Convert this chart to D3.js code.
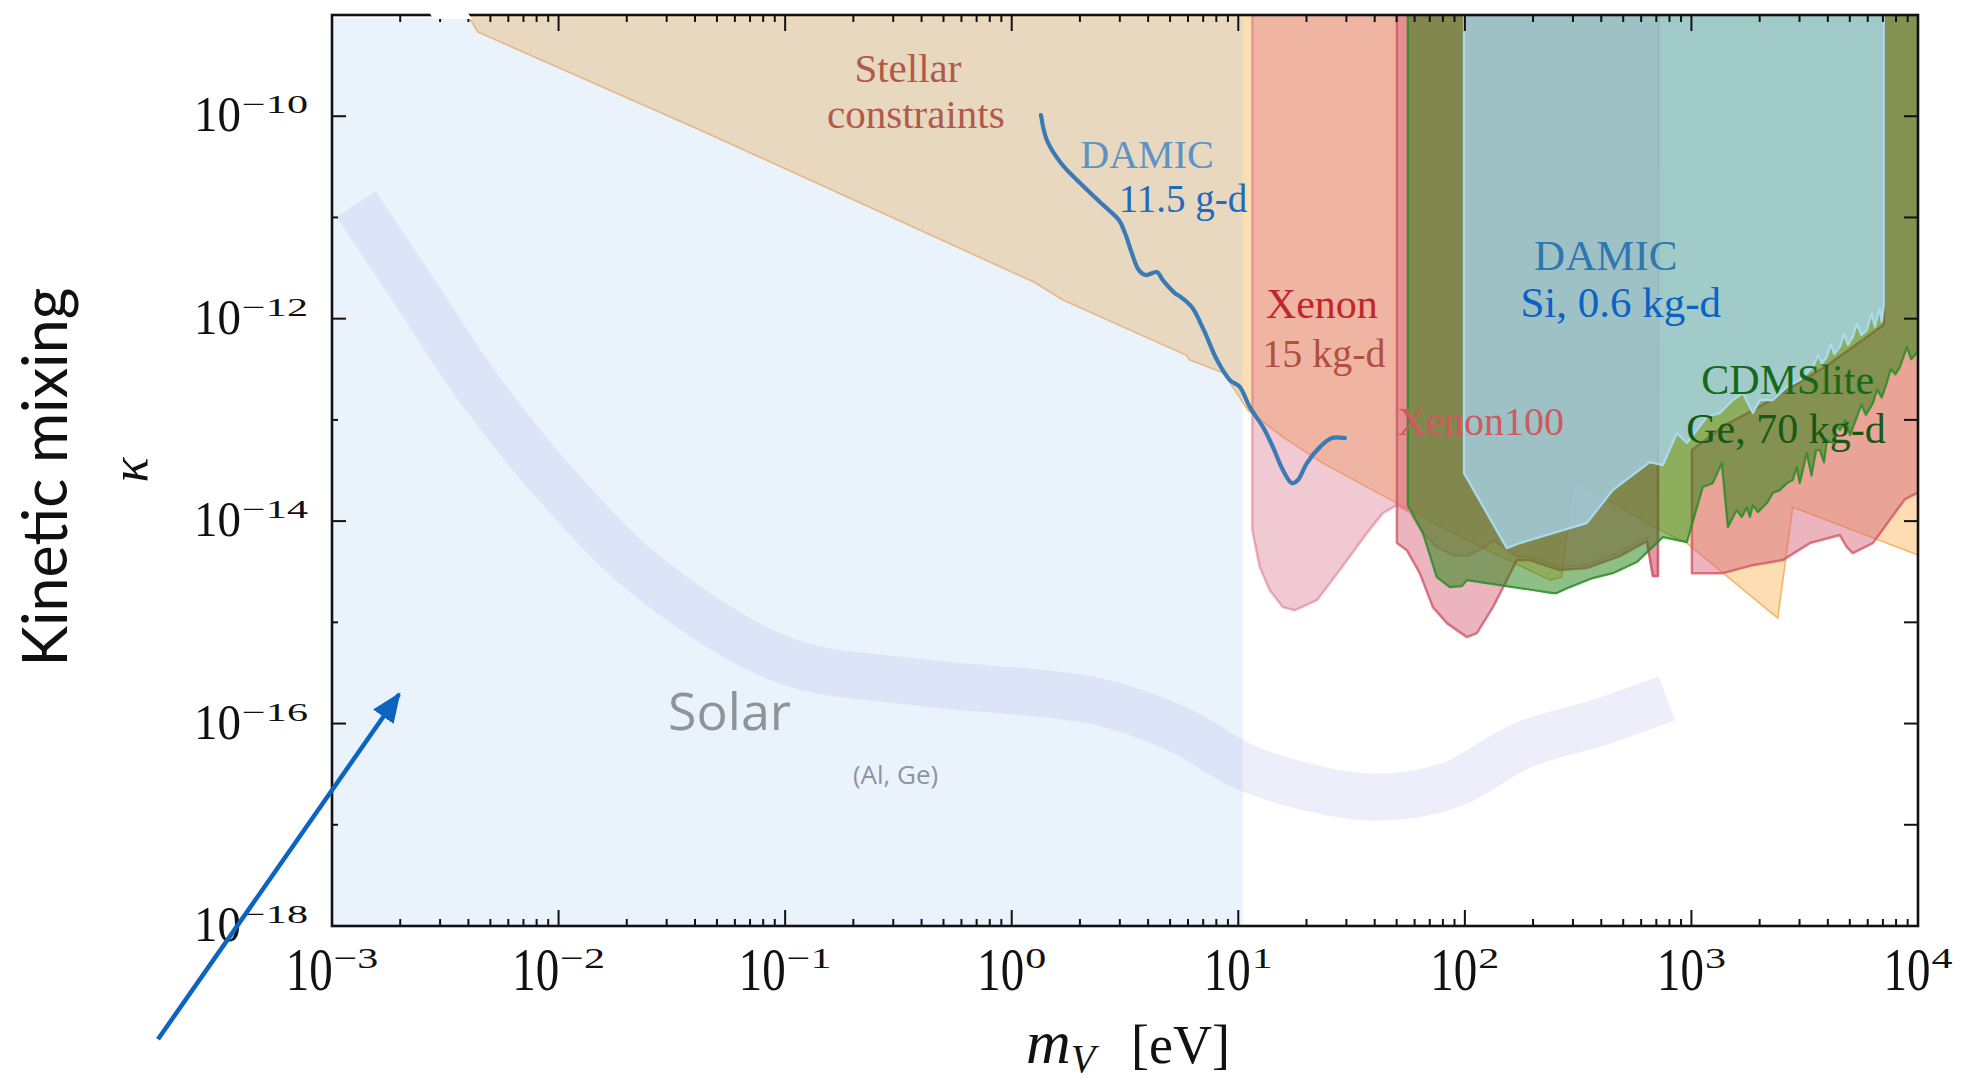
<!DOCTYPE html>
<html>
<head>
<meta charset="utf-8">
<script src="https://cdn.jsdelivr.net/npm/d3@7"></script>
<style>
  html, body { margin: 0; padding: 0; background: #ffffff; }
  svg { display: block; }
</style>
</head>
<body>
<svg id="chart" width="1963" height="1082"></svg>
<script>
// All values are log10 exponents: [log10(m_V / eV), log10(kappa)]

const xDecades = [-3, -2, -1, 0, 1, 2, 3, 4];
const yLabelled = [-18, -16, -14, -12, -10];
const yDecades = [-18, -17, -16, -15, -14, -13, -12, -11, -10, -9];

// Stellar constraints (excluded above the boundary)
const stellar = [
  [-2.43, -8.9], [-2.356, -9.168], [-1.376, -10.136], [0.098, -11.638], [0.226, -11.816],
  [0.769, -12.360], [0.786, -12.409], [0.936, -12.538], [1.042, -12.903], [1.197, -13.170],
  [1.373, -13.427], [1.700, -13.822], [2.035, -14.217], [2.375, -14.583], [2.428, -14.553],
  [2.477, -13.595], [2.861, -14.089], [2.980, -14.217], [3.381, -14.958], [3.447, -13.862],
  [4.0, -14.336], [4.2, -14.5], [4.2, -8.0], [-2.43, -8.0]
];

// Xenon, 15 kg-d
const xenon15 = [
  [1.062, -8.0], [1.062, -14.09], [1.095, -14.455], [1.139, -14.682], [1.197, -14.850],
  [1.250, -14.880], [1.347, -14.781], [1.448, -14.484], [1.567, -14.119], [1.638, -13.921],
  [1.700, -13.842], [1.757, -13.911], [1.815, -14.119], [1.876, -14.257], [1.947, -14.336],
  [2.009, -14.346], [2.066, -14.287], [2.124, -14.188], [2.177, -14.267], [2.229, -14.346],
  [2.287, -14.356], [2.419, -14.455], [2.538, -14.435], [2.684, -14.316], [2.803, -14.168],
  [2.830, -14.543], [2.852, -14.543], [2.856, -8.0]
];

// Xenon100, low-mass piece
const xenon100a = [
  [1.700, -8.0], [1.700, -14.217], [1.744, -14.287], [1.801, -14.514], [1.859, -14.850],
  [1.921, -15.008], [2.009, -15.146], [2.053, -15.107], [2.124, -14.850], [2.185, -14.583],
  [2.229, -14.385], [2.287, -14.385], [2.419, -14.484], [2.538, -14.464], [2.684, -14.346],
  [2.803, -14.198], [2.830, -14.543], [2.852, -14.543], [2.856, -8.0]
];

// Xenon100, high-mass piece
const xenon100b = [
  [3.002, -13.298], [3.002, -14.514], [3.139, -14.514], [3.271, -14.435], [3.403, -14.385],
  [3.523, -14.217], [3.655, -14.138], [3.686, -14.257], [3.712, -14.316], [3.801, -14.217],
  [3.942, -13.783], [4.2, -13.5], [4.2, -8.0], [3.849, -8.0], [3.849, -12.06],
  [3.6, -12.46], [3.3, -12.87], [3.15, -13.05]
];

// CDMSlite, Ge 70 kg-d
const cdmslite = [
  [1.748, -8.0], [1.748, -13.842], [1.815, -14.119], [1.876, -14.553], [1.934, -14.652],
  [1.987, -14.642], [2.009, -14.583], [2.388, -14.711], [2.406, -14.711], [2.463, -14.652],
  [2.565, -14.563], [2.653, -14.514], [2.759, -14.405], [2.874, -14.158], [2.980, -14.208],
  [3.050, -13.664], [3.094, -13.625], [3.134, -13.427], [3.161, -14.059], [3.200, -13.891],
  [3.222, -13.960], [3.245, -13.862], [3.258, -13.960], [3.271, -13.842], [3.293, -13.911],
  [3.333, -13.822], [3.359, -13.723], [3.390, -13.694], [3.421, -13.625], [3.447, -13.595],
  [3.465, -13.466], [3.478, -13.625], [3.509, -13.328], [3.530, -13.55], [3.550, -13.30],
  [3.567, -13.298], [3.585, -13.42], [3.598, -13.20], [3.624, -13.229], [3.640, -13.05],
  [3.655, -13.101], [3.680, -13.00], [3.700, -13.15], [3.730, -12.972], [3.750, -12.85],
  [3.770, -12.95], [3.801, -12.834], [3.820, -12.70], [3.840, -12.78], [3.862, -12.636],
  [3.880, -12.50], [3.900, -12.55], [3.920, -12.478], [3.951, -12.281], [3.970, -12.40],
  [3.995, -12.340], [4.2, -12.2], [4.2, -8.0]
];

// DAMIC, Si 0.6 kg-d
const damicSi = [
  [1.996, -8.0], [1.996, -13.526], [2.185, -14.267], [2.243, -14.217], [2.463, -14.069],
  [2.538, -14.020], [2.653, -13.694], [2.816, -13.417], [2.874, -13.447], [2.936, -13.130],
  [2.980, -13.229], [3.024, -13.101], [3.068, -12.972], [3.125, -12.933], [3.183, -12.804],
  [3.227, -12.735], [3.271, -12.933], [3.302, -12.804], [3.359, -12.804], [3.421, -12.676],
  [3.478, -12.607], [3.536, -12.478], [3.560, -12.36], [3.575, -12.44], [3.598, -12.379],
  [3.615, -12.25], [3.630, -12.35], [3.655, -12.281], [3.675, -12.15], [3.690, -12.26],
  [3.712, -12.182], [3.730, -12.05], [3.750, -12.16], [3.774, -12.113], [3.795, -11.95],
  [3.810, -12.08], [3.830, -11.90], [3.840, -12.03], [3.849, -11.87], [3.849, -8.0]
];

// DAMIC, 11.5 g-d limit curve
const damicLine = [
  [0.129, -9.988], [0.155, -10.235], [0.217, -10.462], [0.297, -10.650], [0.394, -10.858],
  [0.473, -11.026], [0.500, -11.154], [0.530, -11.352], [0.561, -11.520], [0.592, -11.569],
  [0.641, -11.540], [0.667, -11.619], [0.720, -11.747], [0.747, -11.787], [0.795, -11.885],
  [0.848, -12.113], [0.906, -12.409], [0.963, -12.607], [1.007, -12.676], [1.051, -12.874],
  [1.109, -13.071], [1.153, -13.269], [1.197, -13.496], [1.237, -13.625], [1.263, -13.595],
  [1.303, -13.427], [1.360, -13.269], [1.413, -13.180], [1.470, -13.180]
];

// Solar absorption reach (Al, Ge), centre of the band
const solarBand = [
  [-2.894, -10.868], [-2.612, -11.816], [-2.347, -12.706], [-1.950, -13.792], [-1.597, -14.563],
  [-1.005, -15.374], [-0.414, -15.591], [0.372, -15.779], [0.742, -16.065], [1.020, -16.421],
  [1.272, -16.609], [1.594, -16.727], [1.934, -16.609], [2.256, -16.213], [2.596, -15.986],
  [2.891, -15.749]
];

// Shaded solar reach window and the gap it leaves in the top spine
const solarWindow = { from: -3, to: 1.02, top: -9.03 };
const spineGap = [[-2.576, -8.95], [-2.409, -8.95], [-2.382, -9.04], [-2.554, -9.04]];

// Pointer arrow
const arrowFrom = [-3.768, -19.119];
const arrowTo = [-2.704, -15.71];

// Region labels, one block per region; each line: [text, log10 m, log10 kappa, colour, size]
const labelBlocks = [
  { anchor: "middle", family: "serif", lines: [
    ["Stellar", -0.458, -9.662, "#b15a49", 41],
    ["constraints", -0.423, -10.117, "#b15a49", 41]] },
  { anchor: "middle", family: "serif", lines: [
    ["DAMIC", 0.597, -10.512, "#5b93c4", 40],
    ["11.5 g-d", 0.756, -10.947, "#1f6bbe", 39]] },
  { anchor: "middle", family: "serif", lines: [
    ["Xenon", 1.369, -11.994, "#c0262b", 42],
    ["15 kg-d", 1.378, -12.478, "#b0503e", 40]] },
  { anchor: "middle", family: "serif", lines: [
    ["Xenon100", 2.070, -13.150, "#cc5a5e", 40]] },
  { anchor: "middle", family: "serif", lines: [
    ["DAMIC", 2.622, -11.520, "#2e78b0", 43],
    ["Si, 0.6 kg-d", 2.688, -11.984, "#0a62c6", 43]] },
  { anchor: "middle", family: "serif", lines: [
    ["CDMSlite", 3.425, -12.745, "#156a1a", 42],
    ["Ge, 70 kg-d", 3.417, -13.229, "#145a16", 42]] },
  { anchor: "start", family: "sans", lines: [
    ["Solar", -1.517, -16.065, "#8d949c", 52]] },
  { anchor: "start", family: "sans", lines: [
    ["(Al, Ge)", -0.701, -16.599, "#8d949c", 26]] }
];

// ---------------------------------------------------------------------------
const M = { left: 332, right: 1918, top: 15, bottom: 926 };
const svg = d3.select("#chart");

const x = d3.scaleLog().domain([1e-3, 1e4]).range([M.left, M.right]);
const y = d3.scaleLog().domain([1e-18, 1e-9]).range([M.bottom, M.top]);
const px = d => x(Math.pow(10, d[0]));
const py = d => y(Math.pow(10, d[1]));
const line = d3.line().x(px).y(py);
const polygon = pts => line(pts) + "Z";
const smooth = d3.line().x(px).y(py).curve(d3.curveCatmullRom.alpha(0.5));

const SERIF = "'Liberation Serif', 'DejaVu Serif', serif";
const SANS = "'Open Sans', 'Noto Sans', sans-serif";

const defs = svg.append("defs");
defs.append("clipPath").attr("id", "plot-clip")
  .append("rect")
  .attr("x", M.left).attr("y", M.top)
  .attr("width", M.right - M.left).attr("height", M.bottom - M.top);

const plot = svg.append("g").attr("clip-path", "url(#plot-clip)");

// solar band (under the shaded window)
plot.append("path")
  .attr("d", smooth(solarBand))
  .attr("fill", "none")
  .attr("stroke", "#edeef9")
  .attr("stroke-width", 47)
  .attr("stroke-linecap", "butt");

// stellar constraints
plot.append("path").attr("d", polygon(stellar))
  .attr("fill", "rgba(250,170,60,0.40)")
  .attr("stroke", "rgba(244,170,85,0.85)")
  .attr("stroke-width", 1.6)
  .attr("stroke-linejoin", "round");

// shaded window of the solar reach
const winTop = y(Math.pow(10, solarWindow.top));
plot.append("rect")
  .attr("x", x(Math.pow(10, solarWindow.from)))
  .attr("y", winTop)
  .attr("width", x(Math.pow(10, solarWindow.to)) - x(Math.pow(10, solarWindow.from)))
  .attr("height", M.bottom - winTop)
  .attr("fill", "#9fc8f1")
  .attr("fill-opacity", 0.22);

// Xenon 15 kg-d
plot.append("path").attr("d", polygon(xenon15))
  .attr("fill", "rgba(220,120,142,0.40)")
  .attr("stroke", "rgba(214,96,118,0.45)")
  .attr("stroke-width", 2.5)
  .attr("stroke-linejoin", "round");

// Xenon100
[xenon100a, xenon100b].forEach(pts => {
  plot.append("path").attr("d", polygon(pts))
    .attr("fill", "rgba(215,105,125,0.50)")
    .attr("stroke", "rgba(208,80,95,0.75)")
    .attr("stroke-width", 2.5)
    .attr("stroke-linejoin", "round");
});

// CDMSlite
plot.append("path").attr("d", polygon(cdmslite))
  .attr("fill", "rgba(30,128,10,0.50)")
  .attr("stroke", "rgba(40,140,40,0.85)")
  .attr("stroke-width", 2.2)
  .attr("stroke-linejoin", "round");

// DAMIC Si
plot.append("path").attr("d", polygon(damicSi))
  .attr("fill", "rgba(168,212,237,0.75)")
  .attr("stroke", "rgba(170,220,245,0.95)")
  .attr("stroke-width", 2.2)
  .attr("stroke-linejoin", "round");

// DAMIC 11.5 g-d curve
plot.append("path")
  .attr("d", smooth(damicLine))
  .attr("fill", "none")
  .attr("stroke", "#3a7ab6")
  .attr("stroke-width", 4.2)
  .attr("stroke-linecap", "round");

// region labels (multi-line labels kept in one text element)
labelBlocks.forEach(block => {
  const t = svg.append("text")
    .attr("text-anchor", block.anchor)
    .attr("font-family", block.family === "serif" ? SERIF : SANS);
  block.lines.forEach(([s, lm, lk, col, size]) => {
    t.append("tspan")
      .attr("x", px([lm, lk])).attr("y", py([lm, lk]))
      .attr("font-size", size)
      .attr("fill", col)
      .text(s);
  });
});

// ---------------------------------------------------------------------------
// axes: ticks point inward on all four sides
const axes = svg.append("g").attr("stroke", "#111").attr("stroke-width", 2);
const minorX = [];
for (let e = -3; e < 4; e++) for (let k = 2; k < 10; k++) minorX.push(k * Math.pow(10, e));

function xTicks(yEdge, dir) {
  xDecades.forEach(e => {
    const X = x(Math.pow(10, e));
    axes.append("line").attr("x1", X).attr("x2", X).attr("y1", yEdge).attr("y2", yEdge + dir * 16);
  });
  minorX.forEach(v => {
    const X = x(v);
    axes.append("line").attr("x1", X).attr("x2", X).attr("y1", yEdge).attr("y2", yEdge + dir * 7);
  });
}
xTicks(M.bottom, -1);
xTicks(M.top, 1);

yDecades.forEach(e => {
  const Y = y(Math.pow(10, e));
  const len = yLabelled.includes(e) ? 14 : 6;
  axes.append("line").attr("x1", M.left).attr("x2", M.left + len).attr("y1", Y).attr("y2", Y);
  axes.append("line").attr("x1", M.right).attr("x2", M.right - 14).attr("y1", Y).attr("y2", Y);
});

svg.append("rect")
  .attr("x", M.left).attr("y", M.top)
  .attr("width", M.right - M.left).attr("height", M.bottom - M.top)
  .attr("fill", "none").attr("stroke", "#111").attr("stroke-width", 2.6);

// gap in the top spine where the solar window was pasted
svg.append("path").attr("d", polygon(spineGap)).attr("fill", "#ffffff");

// tick labels: "10" plus a separately scaled exponent
const minus = "\u2212";
const expText = e => (e < 0 ? minus + Math.abs(e) : String(e));

function powerLabel(anchorX, baseY, e, opt) {
  const g = svg.append("g").attr("font-family", SERIF).attr("fill", "#111");
  const main = g.append("text").attr("font-size", opt.mainSize).text("10");
  const sup = g.append("text").attr("font-size", opt.supSize).text(expText(e));
  const mw = main.node().getComputedTextLength();
  const sw = sup.node().getComputedTextLength() * opt.supStretch;
  const total = mw + opt.gap + sw;
  const left = opt.align === "middle" ? anchorX - total / 2 : anchorX - total;
  main.attr("transform", `translate(${left},${baseY}) scale(1,${opt.mainStretch})`);
  sup.attr("transform", `translate(${left + mw + opt.gap},${baseY + opt.supShift}) scale(${opt.supStretch},1)`);
}

xDecades.forEach(e => powerLabel(x(Math.pow(10, e)), 990, e, {
  mainSize: 47, mainStretch: 1.32, supSize: 30, supStretch: 1.4, supShift: -22, gap: 1, align: "middle"
}));
yLabelled.forEach(e => powerLabel(M.left - 24, y(Math.pow(10, e)) + 15, e, {
  mainSize: 47, mainStretch: 1.1, supSize: 26, supStretch: 1.62, supShift: -18, gap: 1, align: "end"
}));

// axis titles
svg.append("text")
  .attr("transform", "translate(67,477) rotate(-90)")
  .attr("text-anchor", "middle")
  .attr("font-family", "Lato, 'Open Sans', sans-serif")
  .attr("font-size", 61).attr("fill", "#111")
  .text("Kinetic mixing");
svg.append("text")
  .attr("transform", "translate(147,470) rotate(-90)")
  .attr("text-anchor", "middle")
  .attr("font-family", SERIF).attr("font-style", "italic")
  .attr("font-size", 52).attr("fill", "#111")
  .text("\u03ba");

const xt = svg.append("text")
  .attr("x", 1026).attr("y", 1063)
  .attr("font-family", SERIF).attr("fill", "#111");
xt.append("tspan").attr("font-style", "italic").attr("font-size", 62).text("m");
xt.append("tspan").attr("font-style", "italic").attr("font-size", 40).attr("dy", 9).text("V");
xt.append("tspan").attr("font-size", 54).attr("dy", -9).attr("x", 1131).text("[eV]");

// pointer arrow
defs.append("marker")
  .attr("id", "head").attr("viewBox", "0 0 12 10")
  .attr("refX", 11).attr("refY", 5)
  .attr("markerUnits", "userSpaceOnUse")
  .attr("markerWidth", 30).attr("markerHeight", 25)
  .attr("orient", "auto")
  .append("path").attr("d", "M0,0 L12,5 L0,10 Z").attr("fill", "#0c64c0");
svg.append("line")
  .attr("x1", px(arrowFrom)).attr("y1", py(arrowFrom))
  .attr("x2", px(arrowTo)).attr("y2", py(arrowTo))
  .attr("stroke", "#0c64c0").attr("stroke-width", 4.5)
  .attr("marker-end", "url(#head)");
</script>
</body>
</html>
